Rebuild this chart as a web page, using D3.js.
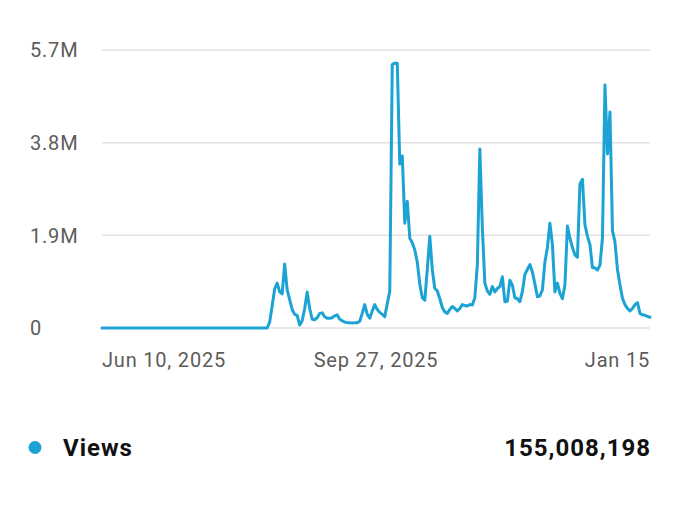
<!DOCTYPE html>
<html>
<head>
<meta charset="utf-8">
<script src="https://cdn.jsdelivr.net/npm/d3@7"></script>
<style>
    body { margin: 0; background: #fff; }
    svg { display: block; font-family: Roboto, "Noto Sans", sans-serif; }
</style>
</head>
<body>
<div id="chart"></div>
<script>
// Daily views (millions), starting Jun 10, 2025 and ending Jan 15, 2026
const startDate = new Date(2025, 5, 10);
const views = [
    0, 0, 0, 0, 0, 0, 0, 0, 0, 0,
    0, 0, 0, 0, 0, 0, 0, 0, 0, 0,
    0, 0, 0, 0, 0, 0, 0, 0, 0, 0,
    0, 0, 0, 0, 0, 0, 0, 0, 0, 0,
    0, 0, 0, 0, 0, 0, 0, 0, 0, 0,
    0, 0, 0, 0, 0, 0, 0, 0, 0, 0,
    0, 0, 0, 0, 0, 0, 0, 0.12, 0.45, 0.80,
    0.92, 0.74, 0.70, 1.31, 0.78, 0.58, 0.38, 0.28, 0.26, 0.06,
    0.15, 0.40, 0.74, 0.40, 0.18, 0.17, 0.21, 0.30, 0.31, 0.23,
    0.20, 0.20, 0.21, 0.25, 0.27, 0.18, 0.15, 0.12, 0.11, 0.11,
    0.10, 0.11, 0.11, 0.14, 0.30, 0.48, 0.28, 0.20, 0.35, 0.48,
    0.38, 0.32, 0.28, 0.23, 0.50, 0.75, 5.40, 5.43, 5.43, 3.36,
    3.53, 2.15, 2.60, 1.84, 1.75, 1.60, 1.35, 0.90, 0.62, 0.57,
    1.20, 1.88, 1.20, 0.81, 0.76, 0.60, 0.42, 0.33, 0.30, 0.38,
    0.44, 0.40, 0.35, 0.40, 0.48, 0.46, 0.45, 0.48, 0.47, 0.62,
    1.30, 3.67, 2.05, 0.92, 0.76, 0.69, 0.85, 0.74, 0.81, 0.85,
    1.05, 0.54, 0.55, 0.98, 0.88, 0.62, 0.60, 0.54, 0.75, 1.10,
    1.20, 1.30, 1.15, 0.90, 0.64, 0.66, 0.78, 1.35, 1.65, 2.15,
    1.71, 0.74, 0.92, 0.71, 0.60, 0.88, 2.09, 1.84, 1.65, 1.50,
    1.45, 2.95, 3.05, 2.12, 1.88, 1.71, 1.24, 1.23, 1.19, 1.29,
    1.84, 4.98, 3.57, 4.43, 2.00, 1.76, 1.20, 0.88, 0.61, 0.48,
    0.40, 0.35, 0.40, 0.48, 0.52, 0.30, 0.27, 0.26, 0.24, 0.22
];
const yTicks = [0, 1.9, 3.8, 5.7];
const yTickLabels = ["0", "1.9M", "3.8M", "5.7M"];
const xTickLabels = ["Jun 10, 2025", "Sep 27, 2025", "Jan 15"];
const seriesName = "Views";
const totalViews = "155,008,198";

const width = 680;
const height = 505;
const margin = { top: 50, right: 30, bottom: 179, left: 102 };
const lineColor = "#1ca3d4";

const series = views.map((v, i) => ({ date: d3.timeDay.offset(startDate, i), value: v }));
const endDate = series[series.length - 1].date;

const svg = d3.select("#chart")
    .append("svg")
    .attr("width", width)
    .attr("height", height);

const xScale = d3.scaleTime()
    .domain([startDate, endDate])
    .range([margin.left, width - margin.right]);

const yScale = d3.scaleLinear()
    .domain([0, 5.7])
    .range([height - margin.bottom + 2, margin.top]);

// Horizontal gridlines
svg.append("g")
    .selectAll("line")
    .data(yTicks)
    .join("line")
    .attr("x1", margin.left)
    .attr("x2", width - margin.right)
    .attr("y1", (d) => yScale(d))
    .attr("y2", (d) => yScale(d))
    .attr("stroke", "#e2e2e2")
    .attr("stroke-width", 1.5);

// Y labels, left aligned
svg.append("g")
    .selectAll("text")
    .data(yTicks)
    .join("text")
    .attr("x", 30)
    .attr("y", (d) => yScale(d))
    .attr("dy", "0.36em")
    .attr("fill", "#5c5c5c")
    .style("font-size", "20px")
    .style("letter-spacing", "0.8px")
    .text((d, i) => yTickLabels[i]);

// X labels: first, middle, last
const midDate = new Date((startDate.getTime() + endDate.getTime()) / 2);
const xTicks = [startDate, midDate, endDate];
const anchors = ["start", "middle", "end"];
svg.append("g")
    .selectAll("text")
    .data(xTicks)
    .join("text")
    .attr("x", (d) => xScale(d))
    .attr("y", 367)
    .attr("text-anchor", (d, i) => anchors[i])
    .attr("fill", "#5c5c5c")
    .style("font-size", "20px")
    .style("letter-spacing", "0.8px")
    .text((d, i) => xTickLabels[i]);

// The views line
const line = d3.line()
    .x((d) => xScale(d.date))
    .y((d) => yScale(d.value));

svg.append("path")
    .datum(series)
    .attr("fill", "none")
    .attr("stroke", lineColor)
    .attr("stroke-width", 3)
    .attr("stroke-linejoin", "round")
    .attr("stroke-linecap", "round")
    .attr("d", line);

// Legend row
svg.append("circle")
    .attr("cx", 35)
    .attr("cy", 447.5)
    .attr("r", 6.5)
    .attr("fill", lineColor);

svg.append("text")
    .attr("x", 63)
    .attr("y", 456)
    .attr("fill", "#111")
    .style("font-size", "24px")
    .style("font-weight", "700")
    .style("letter-spacing", "1px")
    .text(seriesName);

svg.append("text")
    .attr("x", 651)
    .attr("y", 456)
    .attr("text-anchor", "end")
    .attr("fill", "#111")
    .style("font-size", "24px")
    .style("font-weight", "700")
    .style("letter-spacing", "1px")
    .text(totalViews);
</script>
</body>
</html>
